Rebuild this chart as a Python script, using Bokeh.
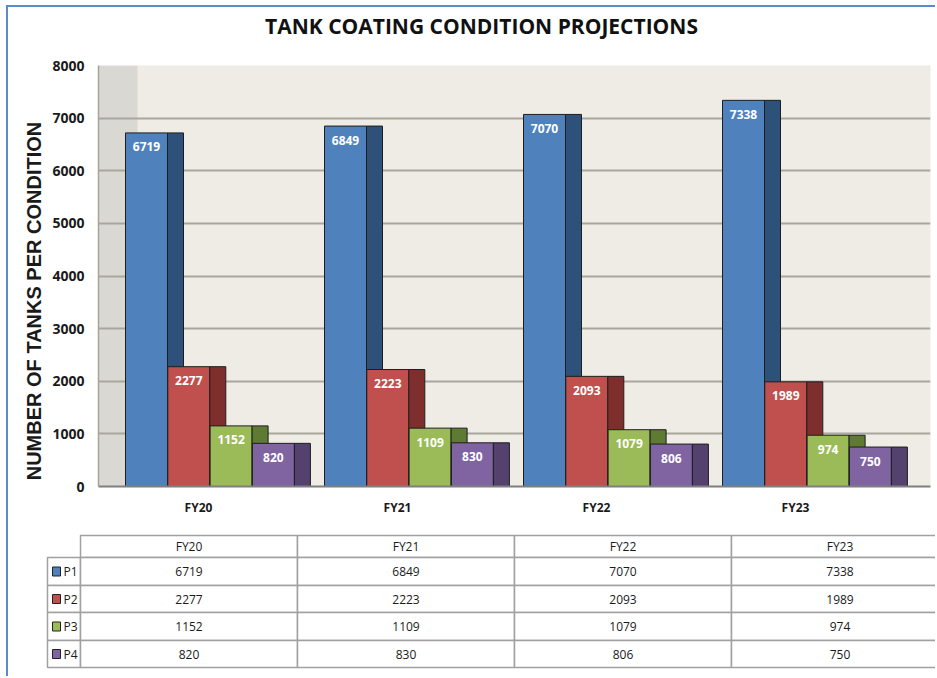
from bokeh.plotting import figure
from bokeh.models import Range1d, FixedTicker, ColumnDataSource
from bokeh.layouts import column, row
from bokeh.core.properties import value
from bokeh.embed import file_html
from bokeh.resources import INLINE

# ---------------- data ----------------
title_text = "TANK COATING CONDITION PROJECTIONS"
years = ["FY20", "FY21", "FY22", "FY23"]
series_names = ["P1", "P2", "P3", "P4"]
p1_vals = [6719, 6849, 7070, 7338]
p2_vals = [2277, 2223, 2093, 1989]
p3_vals = [1152, 1109, 1079, 974]
p4_vals = [820, 830, 806, 750]
y_ticks = [0, 1000, 2000, 3000, 4000, 5000, 6000, 7000, 8000]
all_series = [p1_vals, p2_vals, p3_vals, p4_vals]

# ---------------- styles ----------------
front_colors = ["#4F81BD", "#C0504D", "#9BBB59", "#8064A2"]
side_colors = ["#2E5179", "#7E2F2D", "#5F7A33", "#54416E"]
TXT = "#1A1A1A"
G = 199.0                       # pixels per category step
FRONT_W = 42.0 / G
SIDE_W = 16.0 / G
STEP = 42.3 / G
OFF0 = -73.0 / G


def blank_fig(h, y0, y1):
    f = figure(width=927, height=h, output_backend="svg", toolbar_location=None,
               x_range=Range1d(8, 935), y_range=Range1d(y1, y0),
               min_border=0, min_border_left=0, min_border_right=0,
               min_border_top=0, min_border_bottom=0)
    f.axis.visible = False
    f.grid.visible = False
    f.outline_line_color = None
    f.background_fill_color = "white"
    f.border_fill_color = "white"
    return f


# ---------------- title strip ----------------
tt = blank_fig(40, 7, 47)
tt.text(x=[481], y=[25], text=[title_text], text_align="center", text_baseline="middle",
        text_font=value("Open Sans"), text_font_size="21px", text_font_style="bold",
        text_color="#111111")

# ---------------- chart ----------------
p = figure(width=927, height=473, output_backend="svg", toolbar_location=None,
           x_range=Range1d(-100.0 / G, 732.0 / G), y_range=Range1d(0, 8000),
           min_border_left=90, min_border_right=5, min_border_top=18, min_border_bottom=34)
p.background_fill_color = "#EEECE4"
p.border_fill_color = "white"
p.outline_line_color = None

# back wall side band
p.quad(left=[-100.0 / G], right=[-61.0 / G], bottom=[0], top=[8000],
       fill_color="#DAD8D2", line_color=None, level="image")

# grid
p.xgrid.visible = False
p.ygrid.ticker = FixedTicker(ticks=y_ticks)
p.ygrid.grid_line_color = "#A9A69E"
p.ygrid.grid_line_width = 2

# bars
cats = list(range(len(years)))
for j, vals in enumerate(all_series):
    left = [c + OFF0 + j * STEP for c in cats]
    right = [l + FRONT_W for l in left]
    p.quad(left=left, right=right, bottom=0, top=vals,
           fill_color=front_colors[j], line_color="#1E1E1E", line_width=1)
    sl = right
    sr = [r + SIDE_W for r in sl]
    p.quad(left=sl, right=sr, bottom=0, top=vals,
           fill_color=side_colors[j], line_color="#1E1E1E", line_width=1)

# data labels
for j, vals in enumerate(all_series):
    xc = [c + OFF0 + j * STEP + FRONT_W / 2 for c in cats]
    src = ColumnDataSource(dict(x=xc, y=vals, t=[str(v) for v in vals]))
    p.text(x="x", y="y", text="t", source=src, y_offset=14,
           text_align="center", text_baseline="middle",
           text_font=value("Open Sans"), text_font_style="bold",
           text_font_size="12px", text_color="white")

# axes
NB = "\u00a0" * 9
p.yaxis.ticker = FixedTicker(ticks=y_ticks)
p.yaxis.axis_label = "NUMBER OF TANKS PER CONDITION" + NB
p.yaxis.axis_label_text_font = "Liberation Sans"
p.yaxis.axis_label_text_font_style = "bold"
p.yaxis.axis_label_text_font_size = "20px"
p.yaxis.axis_label_text_color = TXT
p.yaxis.axis_label_standoff = 4
p.yaxis.major_label_text_font = "Open Sans"
p.yaxis.major_label_text_font_style = "bold"
p.yaxis.major_label_text_font_size = "14px"
p.yaxis.major_label_text_color = TXT
p.yaxis.major_label_standoff = 8
p.yaxis.major_tick_line_color = None
p.yaxis.minor_tick_line_color = None
p.yaxis.axis_line_color = "#A6A39B"
p.yaxis.axis_line_width = 1.5

p.xaxis.ticker = FixedTicker(ticks=cats)
p.xaxis.major_label_overrides = {i: y for i, y in enumerate(years)}
p.xaxis.major_label_text_font = "Open Sans"
p.xaxis.major_label_text_font_style = "bold"
p.xaxis.major_label_text_font_size = "12px"
p.xaxis.major_label_text_color = TXT
p.xaxis.major_label_standoff = 6
p.xaxis.major_tick_line_color = None
p.xaxis.minor_tick_line_color = None
p.xaxis.axis_line_color = "#7F7F7F"
p.xaxis.axis_line_width = 2

# ---------------- data table ----------------
t = blank_fig(156, 520, 676)

col_edges = [80, 297, 514, 731, 948]
row_edges = [535, 557, 585, 612, 640, 667]
LINE = "#A0A0A0"

t.quad(left=col_edges[:-1], right=col_edges[1:], top=[row_edges[0]] * 4,
       bottom=[row_edges[1]] * 4, fill_color="white", line_color=LINE, line_width=1.5)
hx = [(col_edges[k] + col_edges[k + 1]) / 2 for k in range(4)]
hy = (row_edges[0] + row_edges[1]) / 2
t.text(x=hx, y=[hy] * 4, text=years, text_align="center", text_baseline="middle",
       text_font=value("Open Sans"), text_font_size="12px", text_color=TXT)

for r, vals in enumerate(all_series):
    top = row_edges[r + 1]
    bot = row_edges[r + 2]
    ym = (top + bot) / 2
    t.quad(left=[47], right=[80], top=[top], bottom=[bot],
           fill_color="white", line_color=LINE, line_width=1.5)
    t.quad(left=[52], right=[60], top=[ym - 4.5], bottom=[ym + 4.5],
           fill_color=front_colors[r], line_color="#222222", line_width=1)
    t.text(x=[63], y=[ym], text=[series_names[r]], text_align="left", text_baseline="middle",
           text_font=value("Open Sans"), text_font_size="12px", text_color=TXT)
    t.quad(left=col_edges[:-1], right=col_edges[1:], top=[top] * 4, bottom=[bot] * 4,
           fill_color="white", line_color=LINE, line_width=1.5)
    t.text(x=hx, y=[ym] * 4, text=[str(v) for v in vals], text_align="center",
           text_baseline="middle", text_font=value("Open Sans"), text_font_size="12px",
           text_color=TXT)

layout = column(row(tt), p, row(t), spacing=0,
                styles={"border-top": "2px solid #5B8AC9", "border-left": "2px solid #5B8AC9",
                        "margin-left": "6px", "margin-top": "5px"})

open("out.html", "w").write(file_html(layout, INLINE))
